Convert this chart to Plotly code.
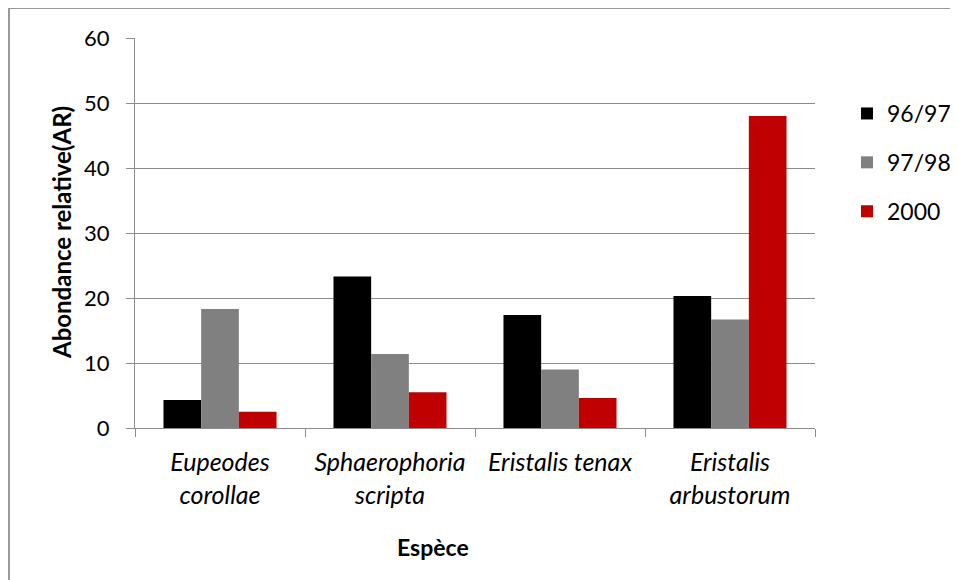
import plotly.graph_objects as go

categories = ["Eupeodes corollae", "Sphaerophoria scripta", "Eristalis tenax", "Eristalis arbustorum"]
category_labels = ["Eupeodes<br>corollae", "Sphaerophoria<br>scripta", "Eristalis tenax", "Eristalis<br>arbustorum"]
series_names = ["96/97", "97/98", "2000"]
values_9697 = [4.3, 23.3, 17.4, 20.3]
values_9798 = [18.3, 11.4, 9.0, 16.7]
values_2000 = [2.5, 5.5, 4.6, 48.0]
series_colors = ["#000000", "#808080", "#C00000"]
y_ticks = [0, 10, 20, 30, 40, 50, 60]

FONT = "Lato"
GRID = "#8c8c8c"

# page offset (html body margin)
OFF = 8
W, H = 958 - OFF, 580 - OFF
# plot area in page pixels
L, R, T, B = 135 - OFF, 815 - OFF, 38 - OFF, 428 - OFF

def px_x(p):
    return (p - OFF - L) / (R - L)

def px_y(p):
    return (B - (p - OFF)) / (B - T)

fig = go.Figure()
for i, (name, vals) in enumerate(zip(series_names, [values_9697, values_9798, values_2000])):
    fig.add_trace(go.Bar(
        x=categories, y=vals, name=name,
        marker=dict(color=series_colors[i], line=dict(width=0)),
        legendgroup=name,
    ))

fig.update_layout(
    width=W, height=H,
    margin=dict(l=L, r=W - R, t=T, b=H - B, autoexpand=False),
    paper_bgcolor="white", plot_bgcolor="white",
    barmode="group", bargap=0.335, bargroupgap=0,
    font=dict(family=FONT, color="black", size=22),
    showlegend=True,
    legend=dict(
        x=px_x(847), xanchor="left",
        y=px_y(92), yanchor="top",
        font=dict(family=FONT, size=23, color="black"),
        tracegroupgap=16,
        traceorder="grouped",
        bgcolor="rgba(0,0,0,0)",
    ),
)

fig.update_xaxes(
    type="category",
    tickvals=categories, ticktext=category_labels,
    tickfont=dict(family=FONT, size=25, color="black", style="italic"),
    showline=True, linecolor=GRID, linewidth=1,
    ticks="outside", tickson="boundaries", ticklen=8, tickcolor=GRID, tickwidth=1,
    showgrid=False, zeroline=False, ticklabelstandoff=12,
    automargin=False,
)
fig.update_yaxes(
    range=[0, 60], tickvals=y_ticks,
    tickfont=dict(family=FONT, size=22, color="black"),
    showline=True, linecolor=GRID, linewidth=1,
    ticks="outside", ticklen=8, tickcolor=GRID, tickwidth=1,
    showgrid=True, gridcolor=GRID, gridwidth=1,
    zeroline=False, ticklabelstandoff=12,
    automargin=False,
)

# axis titles
fig.add_annotation(
    text="<b>Abondance relative(AR)</b>", textangle=-90,
    xref="paper", yref="paper", x=px_x(61), y=px_y(233),
    xanchor="center", yanchor="middle", showarrow=False,
    font=dict(family=FONT, size=24, color="black"),
)
fig.add_annotation(
    text="<b>Espèce</b>",
    xref="paper", yref="paper", x=px_x(433), y=px_y(547),
    xanchor="center", yanchor="middle", showarrow=False,
    font=dict(family=FONT, size=23, color="black"),
)

# chart-area border (left and top edges visible)
fig.add_shape(type="line", xref="paper", yref="paper",
              x0=px_x(9), x1=px_x(9), y0=px_y(8), y1=px_y(600),
              line=dict(color="#999999", width=2))
fig.add_shape(type="line", xref="paper", yref="paper",
              x0=px_x(9), x1=px_x(1000), y0=px_y(8), y1=px_y(8),
              line=dict(color="#999999", width=2))

fig.write_html("out.html")
